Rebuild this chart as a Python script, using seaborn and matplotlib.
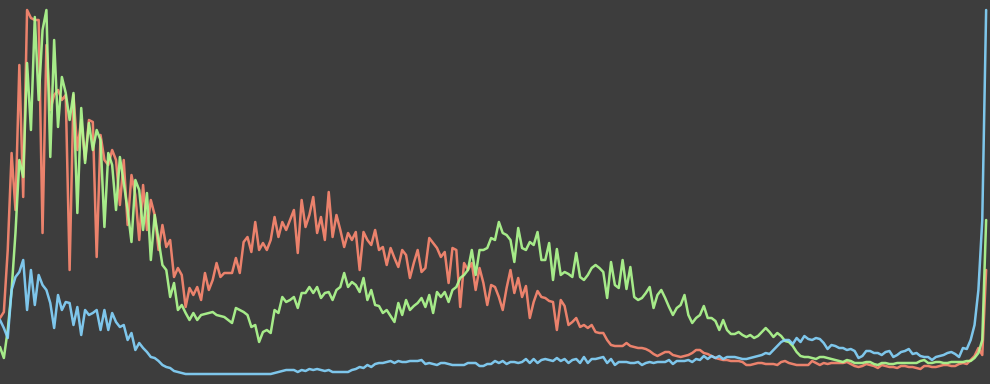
import numpy as np
import pandas as pd
import matplotlib
matplotlib.use("Agg")
import matplotlib.pyplot as plt
import seaborn as sns

# Histogram counts per intensity level (0-255)
red = [
    66, 72, 134, 231, 174, 319, 187, 374, 366, 364, 364, 151, 339, 274, 289, 294,
    284, 289, 114, 289, 234, 264, 224, 264, 262, 127, 249, 224, 219, 234, 224, 179,
    224, 159, 209, 189, 144, 199, 154, 184, 169, 134, 159, 137, 144, 107, 116, 109,
    77, 96, 89, 97, 84, 111, 94, 104, 121, 107, 111, 111, 111, 126, 111, 142,
    147, 132, 162, 134, 141, 134, 144, 167, 147, 162, 154, 164, 174, 131, 184, 157,
    169, 187, 151, 167, 144, 192, 147, 169, 154, 137, 151, 144, 152, 114, 152, 144,
    139, 154, 134, 137, 119, 136, 126, 117, 134, 129, 106, 121, 134, 112, 116, 146,
    141, 136, 127, 132, 101, 136, 134, 77, 121, 114, 121, 94, 116, 101, 79, 99,
    97, 87, 74, 96, 114, 91, 106, 87, 98, 66, 82, 93, 87, 86, 83, 82,
    54, 84, 78, 59, 62, 66, 57, 59, 56, 59, 52, 51, 51, 44, 39, 38,
    38, 38, 41, 38, 37, 36, 36, 35, 33, 30, 28, 30, 32, 32, 29, 28,
    27, 28, 29, 31, 34, 34, 31, 30, 28, 26, 25, 24, 24, 23, 23, 23,
    22, 19, 19, 20, 21, 21, 20, 20, 20, 19, 22, 23, 21, 20, 19, 19,
    19, 19, 23, 21, 19, 21, 20, 21, 21, 21, 21, 22, 20, 18, 17, 18,
    20, 19, 18, 16, 19, 18, 17, 17, 16, 18, 18, 17, 17, 16, 15, 18,
    18, 17, 17, 18, 19, 19, 18, 18, 20, 21, 20, 24, 28, 36, 29, 114,
]

green = [
    37, 26, 54, 94, 151, 224, 207, 321, 254, 367, 284, 354, 374, 227, 344, 257,
    307, 291, 264, 291, 171, 276, 221, 261, 234, 254, 244, 157, 231, 219, 174, 227,
    201, 174, 142, 204, 194, 154, 191, 124, 169, 144, 119, 114, 87, 101, 74, 79,
    71, 64, 71, 64, 69, 70, 71, 72, 69, 68, 67, 64, 61, 76, 74, 72,
    69, 57, 59, 42, 52, 54, 51, 74, 71, 87, 82, 84, 87, 76, 91, 91,
    97, 91, 97, 86, 91, 92, 84, 94, 97, 111, 97, 102, 99, 92, 106, 84,
    94, 79, 78, 71, 74, 68, 62, 81, 69, 84, 74, 78, 81, 86, 77, 89,
    71, 92, 87, 92, 82, 94, 97, 106, 109, 114, 134, 109, 134, 134, 136, 146,
    144, 162, 151, 149, 144, 122, 156, 136, 134, 142, 139, 152, 124, 124, 141, 104,
    135, 109, 112, 110, 107, 131, 107, 104, 109, 116, 119, 116, 112, 86, 122, 99,
    96, 124, 95, 117, 87, 84, 86, 91, 97, 76, 89, 94, 86, 77, 69, 76,
    79, 89, 69, 61, 66, 69, 78, 66, 66, 63, 54, 64, 54, 50, 50, 52,
    49, 47, 49, 46, 48, 52, 56, 52, 47, 51, 48, 43, 42, 38, 32, 28,
    27, 27, 26, 25, 27, 27, 26, 25, 24, 23, 22, 24, 23, 21, 21, 21,
    22, 22, 20, 19, 21, 21, 20, 20, 21, 21, 21, 21, 21, 21, 23, 24,
    21, 21, 22, 22, 21, 21, 22, 22, 22, 22, 23, 23, 26, 31, 44, 164,
]

blue = [
    64, 56, 46, 94, 107, 112, 124, 74, 114, 79, 109, 99, 94, 81, 56, 89,
    74, 82, 81, 59, 77, 49, 74, 69, 71, 74, 54, 74, 54, 71, 62, 57,
    59, 44, 51, 34, 41, 36, 32, 27, 26, 23, 19, 17, 16, 13, 12, 11,
    10, 10, 10, 10, 10, 10, 10, 10, 10, 10, 10, 10, 10, 10, 10, 10,
    10, 10, 10, 10, 10, 10, 10, 11, 12, 13, 14, 14, 14, 12, 14, 13,
    15, 14, 15, 14, 13, 14, 12, 12, 12, 12, 12, 14, 15, 17, 16, 19,
    17, 20, 21, 21, 22, 23, 21, 23, 22, 22, 23, 23, 23, 24, 20, 21,
    20, 19, 21, 21, 20, 19, 19, 19, 19, 21, 21, 21, 18, 18, 20, 20,
    23, 21, 23, 20, 22, 22, 21, 22, 25, 21, 25, 21, 24, 25, 24, 23,
    26, 23, 25, 21, 24, 25, 21, 27, 21, 25, 25, 26, 27, 21, 25, 19,
    22, 22, 22, 21, 21, 22, 19, 21, 22, 21, 22, 22, 22, 24, 20, 23,
    23, 23, 24, 22, 25, 24, 28, 25, 28, 26, 28, 25, 27, 27, 27, 26,
    25, 25, 26, 27, 28, 29, 31, 30, 34, 38, 42, 44, 44, 40, 46, 42,
    48, 45, 44, 46, 45, 41, 35, 39, 38, 36, 36, 34, 35, 33, 26, 28,
    33, 33, 31, 31, 29, 32, 33, 27, 29, 32, 33, 35, 30, 31, 28, 27,
    27, 24, 27, 28, 29, 31, 32, 30, 27, 36, 35, 44, 59, 94, 164, 374,
]

levels = list(range(256))

df = pd.DataFrame({
    "level": levels * 3,
    "count": red + green + blue,
    "channel": ["red"] * len(red) + ["green"] * len(green) + ["blue"] * len(blue),
})

sns.set_theme(style="dark")
fig = plt.figure(figsize=(9.9, 3.84), dpi=100)
ax = fig.add_axes([0, 0, 1, 1])
bg = "#3d3d3d"
fig.patch.set_facecolor(bg)
ax.set_facecolor(bg)

palette = {"red": "#ff8a72", "green": "#b2ff92", "blue": "#86d6ff"}
sns.lineplot(data=df, x="level", y="count", hue="channel",
             hue_order=["red", "green", "blue"], palette=palette,
             linewidth=1.8, alpha=0.9, legend=False, ax=ax)

ax.set_xlim(0, 256)
ax.set_ylim(0, 384)
ax.set_axis_off()
fig.savefig("out.png", dpi=100, facecolor=bg)
